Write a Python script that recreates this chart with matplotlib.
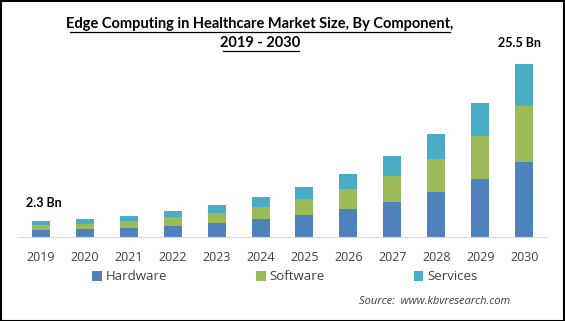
import matplotlib
matplotlib.use("Agg")
import matplotlib.pyplot as plt
from matplotlib.patches import Rectangle
import numpy as np

years = ["2019", "2020", "2021", "2022", "2023", "2024", "2025", "2026", "2027", "2028", "2029", "2030"]
hardware = [1.05, 1.18, 1.33, 1.62, 2.06, 2.65, 3.24, 4.13, 5.16, 6.64, 8.6, 11.06]
software = [0.65, 0.74, 1.03, 1.33, 1.47, 1.73, 2.36, 2.95, 3.83, 4.87, 6.3, 8.24]
services = [0.60, 0.74, 0.74, 0.88, 1.23, 1.52, 1.77, 2.21, 2.95, 3.69, 4.9, 6.2]
series_names = ["Hardware", "Software", "Services"]
colors = ["#4F81BD", "#9BBB59", "#4BACC6"]

W, H = 565, 321
fig = plt.figure(figsize=(W / 100, H / 100), dpi=100)

def px(x, y):
    return x / W, 1 - y / H

# axes: x from 18 to 547, y from 55 to 237
ax = fig.add_axes([18 / W, 1 - 237 / H, (547 - 18) / W, (237 - 55) / H])
x = np.arange(len(years))
bottom = np.zeros(len(years))
for vals, name, c in zip([hardware, software, services], series_names, colors):
    ax.bar(x, vals, width=0.41, bottom=bottom, color=c, label=name, zorder=2)
    bottom += np.array(vals)
ax.set_xlim(-0.52, 11.52)
ax.set_ylim(0, 26.8)
for s in ["top", "right", "left"]:
    ax.spines[s].set_visible(False)
ax.spines["bottom"].set_color("#D9D9D9")
ax.set_yticks([])
ax.set_xticks(x)
ax.set_xticklabels(years, fontfamily="Open Sans", fontsize=9, color="#404040")
ax.tick_params(axis="x", length=0, pad=10)

# legend
leg = fig.legend(*ax.get_legend_handles_labels(), loc="center", ncol=3,
                 bbox_to_anchor=(285 / W, 1 - 277 / H), frameon=False,
                 prop={"family": "Open Sans", "size": 9.5},
                 handlelength=0.75, handleheight=0.75, handletextpad=0.3,
                 columnspacing=6.7)
for t in leg.get_texts():
    t.set_color("#404040")

# title
fig.text(*px(260, 24), "Edge Computing in Healthcare Market Size, By Component,",
         ha="center", va="center", fontfamily="Lato", fontweight="bold", fontsize=10.5)
fig.text(*px(260, 43), "2019 - 2030",
         ha="center", va="center", fontfamily="Lato", fontweight="bold", fontsize=10.5)
# underlines
fig.add_artist(plt.Line2D([70 / W, 450 / W], [1 - 32 / H, 1 - 32 / H], color="black", lw=0.9))
fig.add_artist(plt.Line2D([223 / W, 299 / W], [1 - 51 / H, 1 - 51 / H], color="black", lw=0.9))

# annotations
fig.text(*px(44, 203), "2.3 Bn", ha="center", va="center", fontfamily="Lato",
         fontweight="bold", fontsize=9)
fig.text(*px(519, 43), "25.5 Bn", ha="center", va="center", fontfamily="Lato",
         fontweight="bold", fontsize=9)

# source
fig.text(*px(435, 302), "Source:  www.kbvresearch.com", ha="center", va="center",
         fontfamily="Open Sans", fontstyle="italic", fontsize=8, color="#404040")

# border
fig.add_artist(Rectangle((0.5 / W, 0.5 / H), 1 - 1.5 / W, 1 - 1.5 / H, transform=fig.transFigure,
                         fill=False, edgecolor="black", lw=1.5))

fig.savefig("out.png", dpi=100)
